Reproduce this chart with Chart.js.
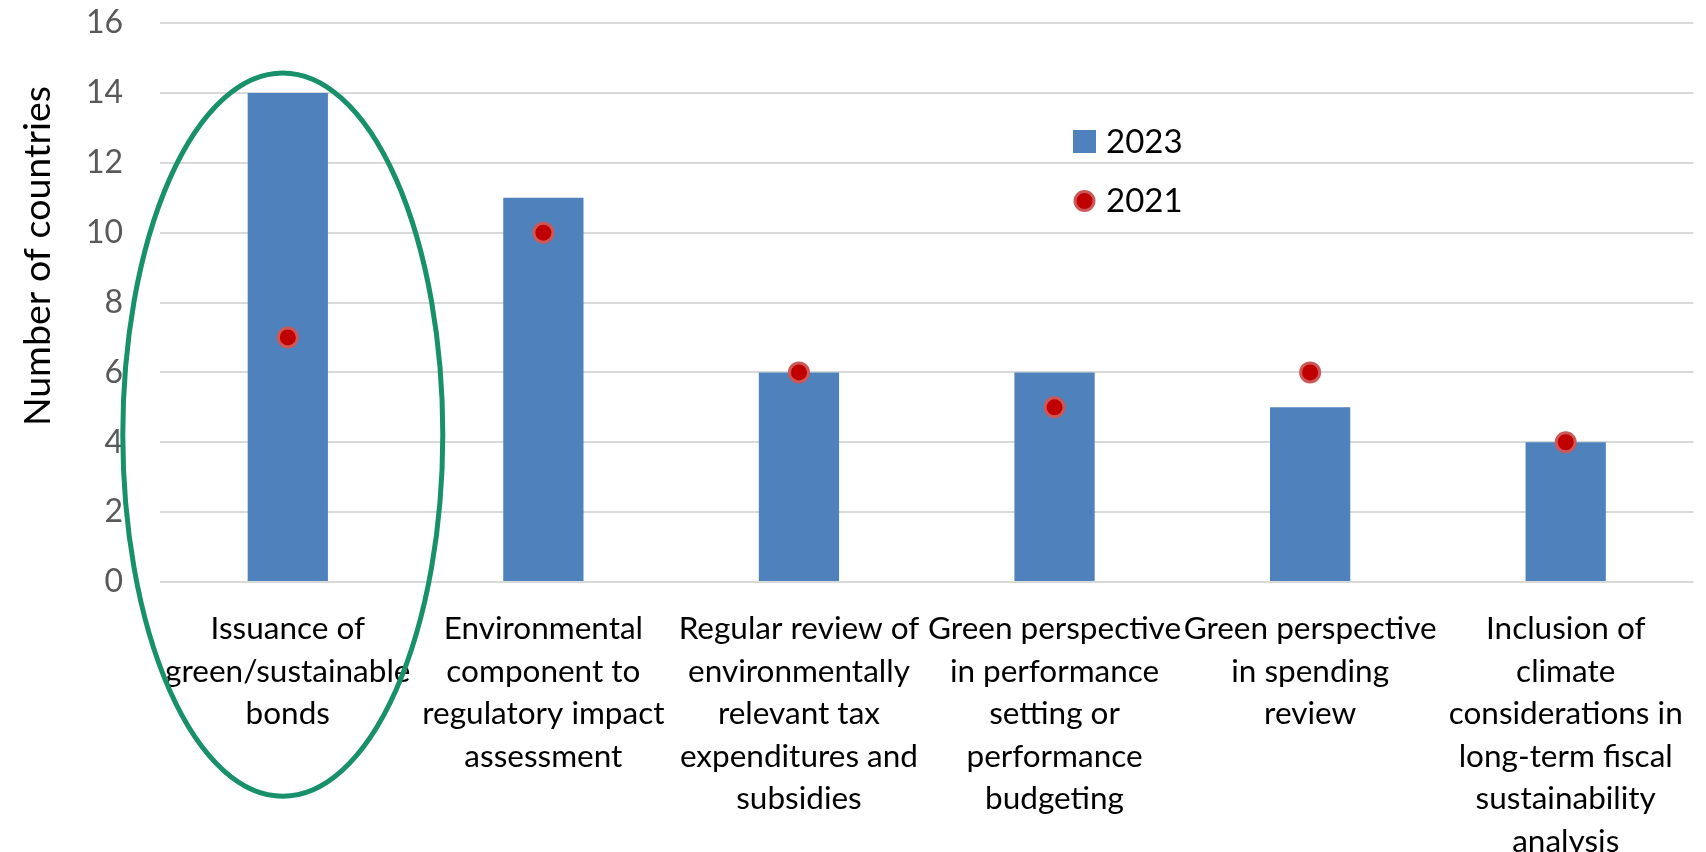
<!DOCTYPE html>
<html>
<head>
<meta charset="utf-8">
<script src="https://cdn.jsdelivr.net/npm/chart.js@4.4.1/dist/chart.umd.min.js"></script>
<style>
  html, body { margin: 0; padding: 0; background: #fff; }
  #wrap { width: 1706px; height: 852px; }
</style>
</head>
<body>
<div id="wrap"><canvas id="greenChart" width="1706" height="852"></canvas></div>
<script>
// Data
const categories = [
    ["Issuance of", "green/sustainable", "bonds"],
    ["Environmental", "component to", "regulatory impact", "assessment"],
    ["Regular review of", "environmentally", "relevant tax", "expenditures and", "subsidies"],
    ["Green perspective", "in performance", "setting or", "performance", "budgeting"],
    ["Green perspective", "in spending", "review"],
    ["Inclusion of", "climate", "considerations in", "long-term fiscal", "sustainability", "analysis"]
];
const values2023 = [14, 11, 6, 6, 5, 4];
const values2021 = [7, 10, 6, 5, 6, 4];
const yTicks = [0, 2, 4, 6, 8, 10, 12, 14, 16];

const barColor = "#4F81BD";
const dotColor = "#C00000";
const dotEdge = "#CC5858";
const ringColor = "#18916A";

// Extra drawing: axis title, legend and the highlight ring
const overlay = {
    id: "overlay",
    afterDraw(chart) {
        const ctx = chart.ctx;
        const x = chart.scales.x;
        const y = chart.scales.y;
        ctx.save();

        // y axis title
        ctx.save();
        ctx.translate(38, 256);
        ctx.rotate(-Math.PI / 2);
        ctx.font = "37.5px Lato";
        ctx.fillStyle = "#000";
        ctx.textAlign = "center";
        ctx.textBaseline = "middle";
        ctx.fillText("Number of countries", 0, 0);
        ctx.restore();

        // legend
        ctx.font = "33px Lato";
        ctx.textAlign = "left";
        ctx.textBaseline = "middle";
        ctx.fillStyle = barColor;
        ctx.fillRect(1073, 130, 23, 23);
        ctx.fillStyle = "#000";
        ctx.fillText("2023", 1106, 142);
        ctx.beginPath();
        ctx.arc(1084.5, 201, 9.5, 0, Math.PI * 2);
        ctx.fillStyle = dotColor;
        ctx.fill();
        ctx.lineWidth = 3;
        ctx.strokeStyle = dotEdge;
        ctx.stroke();
        ctx.fillStyle = "#000";
        ctx.fillText("2021", 1106, 201);

        // ring around the first category
        const cx = x.getPixelForValue(0) - 5;
        const cy = y.getPixelForValue(4.22);
        const ry = y.getPixelForValue(0) - y.getPixelForValue(10.35);
        const rx = 160;
        ctx.beginPath();
        ctx.ellipse(cx, cy, rx, ry, 0, 0, Math.PI * 2);
        ctx.lineWidth = 5;
        ctx.strokeStyle = ringColor;
        ctx.stroke();

        ctx.restore();
    }
};

Chart.defaults.font.family = "Lato";

const ctx = document.getElementById("greenChart").getContext("2d");
new Chart(ctx, {
    type: "bar",
    data: {
        labels: categories,
        datasets: [
            {
                type: "line",
                label: "2021",
                data: values2021,
                showLine: false,
                pointStyle: "circle",
                pointRadius: 9.5,
                pointHoverRadius: 9.5,
                pointBorderWidth: 3,
                pointBackgroundColor: dotColor,
                pointBorderColor: dotEdge,
                order: 1
            },
            {
                type: "bar",
                label: "2023",
                data: values2023,
                backgroundColor: barColor,
                barPercentage: 0.314,
                categoryPercentage: 1,
                order: 2
            }
        ]
    },
    options: {
        responsive: false,
        animation: false,
        devicePixelRatio: 1,
        layout: { padding: { top: 23, right: 0, left: 0, bottom: 0 } },
        plugins: {
            legend: { display: false },
            tooltip: { enabled: false }
        },
        scales: {
            x: {
                grid: { display: false },
                border: { display: false },
                ticks: {
                    autoSkip: false,
                    maxRotation: 0,
                    minRotation: 0,
                    color: "#000",
                    padding: 18,
                    font: { size: 31.5, lineHeight: "42.5px" }
                },
                afterFit(scale) {
                    scale.height = 270;
                    scale.paddingLeft = 0;
                    scale.paddingRight = 0;
                    scale.paddingTop = 0;
                    scale.paddingBottom = 0;
                }
            },
            y: {
                min: 0,
                max: 16,
                afterBuildTicks(scale) { scale.ticks = yTicks.map(v => ({ value: v })); },
                grid: { color: "#D9D9D9", lineWidth: 2, drawTicks: false },
                border: { display: false },
                ticks: {
                    color: "#595959",
                    padding: 37,
                    font: { size: 32 }
                },
                afterFit(scale) {
                    scale.width = 160;
                    scale.paddingTop = 0;
                    scale.paddingBottom = 0;
                }
            }
        }
    },
    plugins: [overlay]
});
</script>
</body>
</html>
